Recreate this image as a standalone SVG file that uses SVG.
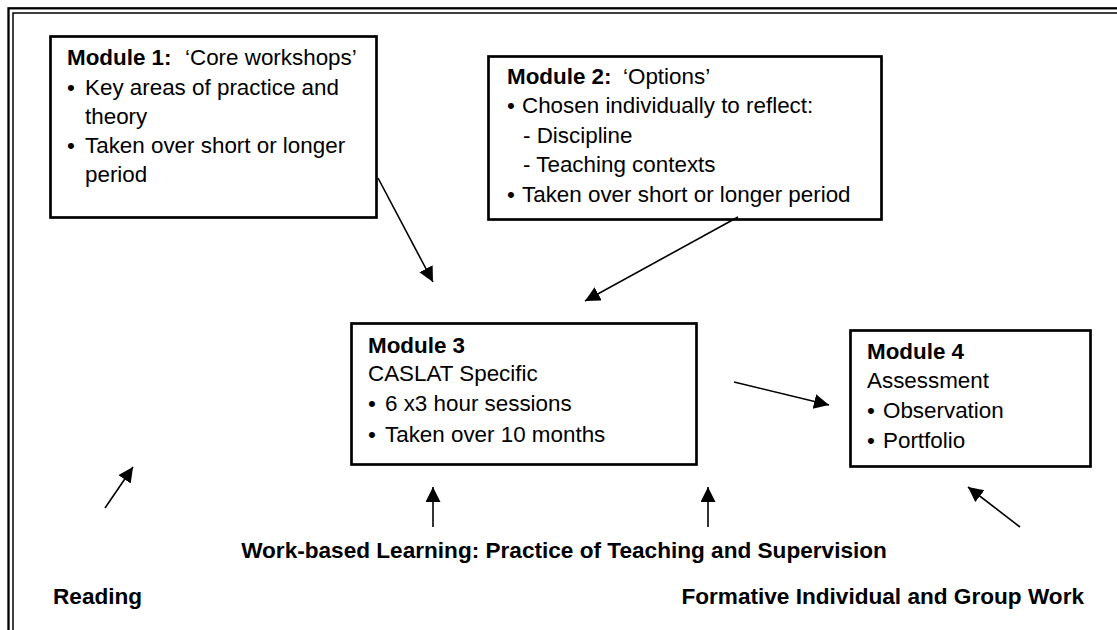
<svg xmlns="http://www.w3.org/2000/svg" width="1117" height="630" viewBox="0 0 1117 630">
<style>
.box{fill:#fff;stroke:#000;stroke-width:2.7}
.t{font-family:"Liberation Sans",Arial,sans-serif;font-size:22.4px;fill:#000}
.b{font-weight:bold}
.lbl{font-family:"Liberation Sans",Arial,sans-serif;font-size:22.6px;font-weight:bold;fill:#000}
.c{stroke:#000;stroke-width:1.6;fill:none;marker-end:url(#ah)}
</style>
<defs>
<marker id="ah" markerUnits="userSpaceOnUse" markerWidth="17" markerHeight="16" refX="15" refY="7.5" orient="auto">
<path d="M0,0 L15,7.5 L0,15 z" fill="#000"/>
</marker>
</defs>
<rect width="1117" height="630" fill="#fff"/>
<g id="frame" fill="none" stroke="#000">
<rect x="8.5" y="8.3" width="1130" height="650" stroke-width="2.3"/>
<rect x="13" y="13" width="1120" height="640" stroke-width="1.5"/>
</g>
<g id="module1">
<rect class="box" x="50.5" y="36.5" width="326" height="181"/>
<text class="t" x="67" y="65"><tspan class="b">Module 1:</tspan><tspan x="185">‘Core workshops’</tspan></text>
<text class="t" x="67" y="95">•</text>
<text class="t" x="85" y="95">Key areas of practice and</text>
<text class="t" x="85" y="124">theory</text>
<text class="t" x="67" y="153">•</text>
<text class="t" x="85" y="153">Taken over short or longer</text>
<text class="t" x="85" y="182">period</text>
</g>
<g id="module2">
<rect class="box" x="488.5" y="56.5" width="393" height="163"/>
<text class="t" x="507" y="84"><tspan class="b">Module 2:</tspan><tspan x="623">‘Options’</tspan></text>
<text class="t" x="507" y="113">•</text>
<text class="t" x="522" y="113">Chosen individually to reflect:</text>
<text class="t" x="523" y="143">- Discipline</text>
<text class="t" x="523" y="172">- Teaching contexts</text>
<text class="t" x="507" y="202">•</text>
<text class="t" x="522" y="202">Taken over short or longer period</text>
</g>
<g id="module3">
<rect class="box" x="351.5" y="323.5" width="345" height="141"/>
<text class="t b" x="368" y="353">Module 3</text>
<text class="t" x="368" y="381">CASLAT Specific</text>
<text class="t" x="368" y="411">•</text>
<text class="t" x="385" y="411">6 x3 hour sessions</text>
<text class="t" x="368" y="442">•</text>
<text class="t" x="385" y="442">Taken over 10 months</text>
</g>
<g id="module4">
<rect class="box" x="850.5" y="330.5" width="240" height="136"/>
<text class="t b" x="867" y="359">Module 4</text>
<text class="t" x="867" y="388">Assessment</text>
<text class="t" x="867" y="418">•</text>
<text class="t" x="883" y="418">Observation</text>
<text class="t" x="867" y="448">•</text>
<text class="t" x="883" y="448">Portfolio</text>
</g>
<g id="labels">
<text class="lbl" x="564" y="558" text-anchor="middle">Work-based Learning: Practice of Teaching and Supervision</text>
<text class="lbl" x="53" y="604">Reading</text>
<text class="lbl" x="1084" y="604" text-anchor="end">Formative Individual and Group Work</text>
</g>
<g id="connectors">
<line class="c" x1="378" y1="178" x2="433" y2="282"/>
<line class="c" x1="738" y1="217" x2="585" y2="301"/>
<line class="c" x1="734" y1="382" x2="829" y2="405"/>
<line class="c" x1="105" y1="508" x2="133" y2="467"/>
<line class="c" x1="433" y1="527" x2="433" y2="487"/>
<line class="c" x1="708" y1="527" x2="708" y2="487"/>
<line class="c" x1="1020" y1="527" x2="968" y2="487"/>
</g>
</svg>
